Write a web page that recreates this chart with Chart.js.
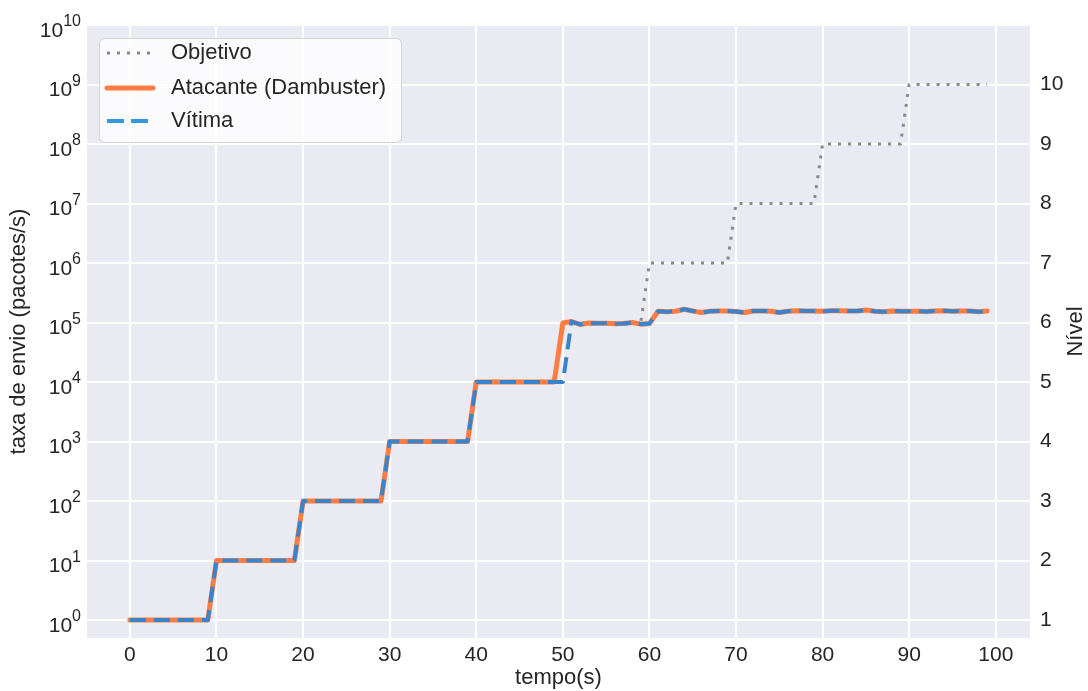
<!DOCTYPE html>
<html>
<head>
<meta charset="utf-8">
<script src="https://cdn.jsdelivr.net/npm/chart.js@4"></script>
<style>
  body { margin: 0; background: #fff; }
</style>
</head>
<body>
<canvas id="chart" width="1088" height="691"></canvas>
<script>
// tempo (s)
const tempo = [
    0, 1, 2, 3, 4, 5, 6, 7, 8, 9,
    10, 11, 12, 13, 14, 15, 16, 17, 18, 19,
    20, 21, 22, 23, 24, 25, 26, 27, 28, 29,
    30, 31, 32, 33, 34, 35, 36, 37, 38, 39,
    40, 41, 42, 43, 44, 45, 46, 47, 48, 49,
    50, 51, 52, 53, 54, 55, 56, 57, 58, 59,
    60, 61, 62, 63, 64, 65, 66, 67, 68, 69,
    70, 71, 72, 73, 74, 75, 76, 77, 78, 79,
    80, 81, 82, 83, 84, 85, 86, 87, 88, 89,
    90, 91, 92, 93, 94, 95, 96, 97, 98, 99
];

const objetivo = [
    1, 1, 1, 1, 1, 1, 1, 1, 1, 1,
    1e1, 1e1, 1e1, 1e1, 1e1, 1e1, 1e1, 1e1, 1e1, 1e1,
    1e2, 1e2, 1e2, 1e2, 1e2, 1e2, 1e2, 1e2, 1e2, 1e2,
    1e3, 1e3, 1e3, 1e3, 1e3, 1e3, 1e3, 1e3, 1e3, 1e3,
    1e4, 1e4, 1e4, 1e4, 1e4, 1e4, 1e4, 1e4, 1e4, 1e4,
    1e5, 1e5, 1e5, 1e5, 1e5, 1e5, 1e5, 1e5, 1e5, 1e5,
    1e6, 1e6, 1e6, 1e6, 1e6, 1e6, 1e6, 1e6, 1e6, 1e6,
    1e7, 1e7, 1e7, 1e7, 1e7, 1e7, 1e7, 1e7, 1e7, 1e7,
    1e8, 1e8, 1e8, 1e8, 1e8, 1e8, 1e8, 1e8, 1e8, 1e8,
    1e9, 1e9, 1e9, 1e9, 1e9, 1e9, 1e9, 1e9, 1e9, 1e9
];

const atacante = [
    1, 1, 1, 1, 1, 1, 1, 1, 1, 1,
    1e1, 1e1, 1e1, 1e1, 1e1, 1e1, 1e1, 1e1, 1e1, 1e1,
    1e2, 1e2, 1e2, 1e2, 1e2, 1e2, 1e2, 1e2, 1e2, 1e2,
    1e3, 1e3, 1e3, 1e3, 1e3, 1e3, 1e3, 1e3, 1e3, 1e3,
    1e4, 1e4, 1e4, 1e4, 1e4, 1e4, 1e4, 1e4, 1e4, 1e4,
    98000, 104000, 93000, 98000, 97000, 97000, 95000, 96000, 100000, 94000,
    96000, 155000, 152000, 155000, 167000, 156000, 147000, 155000, 156000, 156000,
    153000, 147000, 156000, 157000, 155000, 147000, 155000, 158000, 156000, 156000,
    155000, 158000, 158000, 156000, 156000, 162000, 155000, 152000, 156000, 155000,
    155000, 155000, 153000, 156000, 158000, 155000, 156000, 156000, 152000, 156000
];

const vitima = [
    1, 1, 1, 1, 1, 1, 1, 1, 1, 1,
    1e1, 1e1, 1e1, 1e1, 1e1, 1e1, 1e1, 1e1, 1e1, 1e1,
    1e2, 1e2, 1e2, 1e2, 1e2, 1e2, 1e2, 1e2, 1e2, 1e2,
    1e3, 1e3, 1e3, 1e3, 1e3, 1e3, 1e3, 1e3, 1e3, 1e3,
    1e4, 1e4, 1e4, 1e4, 1e4, 1e4, 1e4, 1e4, 1e4, 1e4,
    10000, 104000, 93000, 98000, 97000, 97000, 95000, 96000, 100000, 94000,
    96000, 155000, 152000, 155000, 167000, 156000, 147000, 155000, 156000, 156000,
    153000, 147000, 156000, 157000, 155000, 147000, 155000, 158000, 156000, 156000,
    155000, 158000, 158000, 156000, 156000, 162000, 155000, 152000, 156000, 155000,
    155000, 155000, 153000, 156000, 158000, 155000, 156000, 156000, 152000, 156000
];

const xTicks = [0, 10, 20, 30, 40, 50, 60, 70, 80, 90, 100];
const taxaTicks = [1, 1e1, 1e2, 1e3, 1e4, 1e5, 1e6, 1e7, 1e8, 1e9, 1e10];
const nivelTicks = [1, 2, 3, 4, 5, 6, 7, 8, 9, 10];

const FONT = "'Liberation Sans', Arial, sans-serif";
const TEXT = '#262626';

function points(ys) {
    return tempo.map((t, i) => ({ x: t, y: ys[i] }));
}

// fundo cinza do seaborn
const bgPlugin = {
    id: 'bg',
    beforeDraw(chart) {
        const a = chart.chartArea;
        const ctx = chart.ctx;
        ctx.save();
        ctx.fillStyle = '#EAEAF2';
        ctx.fillRect(a.left, a.top, a.right - a.left, a.bottom - a.top);
        ctx.restore();
    }
};

// rotulos 10^n do eixo esquerdo, com expoente elevado
const expLabels = {
    id: 'expLabels',
    afterDraw(chart) {
        const ctx = chart.ctx;
        const sc = chart.scales.y;
        ctx.save();
        ctx.fillStyle = TEXT;
        ctx.textBaseline = 'middle';
        ctx.textAlign = 'left';
        taxaTicks.forEach(v => {
            const py = sc.getPixelForValue(v);
            const e = String(Math.round(Math.log10(v)));
            ctx.font = '16px ' + FONT;
            const we = ctx.measureText(e).width;
            ctx.font = '21px ' + FONT;
            const wb = ctx.measureText('10').width;
            const xr = 81;
            ctx.fillText('10', xr - we - wb, py + 6);
            ctx.font = '16px ' + FONT;
            ctx.fillText(e, xr - we, py - 3);
        });
        ctx.restore();
    }
};

// legenda dentro do grafico + titulo do eixo direito
const legendPlugin = {
    id: 'boxLegend',
    afterDraw(chart) {
        const ctx = chart.ctx;
        ctx.save();
        const bx = 99, by = 38, bw = 302, bh = 104, r = 5;
        ctx.beginPath();
        ctx.roundRect(bx + 0.5, by + 0.5, bw, bh, r);
        ctx.fillStyle = 'rgba(255,255,255,0.8)';
        ctx.fill();
        ctx.strokeStyle = 'rgba(204,204,204,0.8)';
        ctx.lineWidth = 1;
        ctx.stroke();

        const rowsY = [53, 88, 121];
        ctx.font = '22px ' + FONT;
        ctx.textBaseline = 'middle';
        chart.data.datasets.forEach((ds, k) => {
            const y = rowsY[k];
            ctx.beginPath();
            ctx.setLineDash(ds.legendDash || []);
            ctx.lineWidth = ds.borderWidth;
            ctx.lineCap = ds.legendCap || 'butt';
            ctx.strokeStyle = ds.legendColor || ds.borderColor;
            ctx.moveTo(107, y);
            ctx.lineTo(153, y);
            ctx.stroke();
            ctx.setLineDash([]);
            ctx.fillStyle = TEXT;
            ctx.fillText(ds.label, 171, y);
        });

        // "Nível" no eixo direito
        const a = chart.chartArea;
        ctx.translate(1076, (a.top + a.bottom) / 2);
        ctx.rotate(-Math.PI / 2);
        ctx.textAlign = 'center';
        ctx.font = '22px ' + FONT;
        ctx.fillStyle = TEXT;
        ctx.fillText('Nível', 0, 0);
        ctx.restore();
    }
};

const ctx = document.getElementById('chart').getContext('2d');
new Chart(ctx, {
    type: 'line',
    data: {
        datasets: [
            {
                label: 'Objetivo',
                data: points(objetivo),
                borderColor: '#8a8a8a',
                borderWidth: 3,
                borderDash: [3, 7],
                legendDash: [3, 7],
                order: 3
            },
            {
                label: 'Atacante (Dambuster)',
                data: points(atacante),
                borderColor: '#ff7d42',
                borderWidth: 5,
                borderCapStyle: 'round',
                legendCap: 'round',
                order: 2
            },
            {
                label: 'Vítima',
                data: points(vitima),
                borderColor: '#3784cc',
                legendColor: '#3498db',
                borderWidth: 4,
                borderDash: [16, 8],
                legendDash: [17, 7],
                order: 1
            }
        ]
    },
    options: {
        responsive: false,
        animation: false,
        devicePixelRatio: 1,
        layout: { padding: { top: 25, right: 0, left: 0, bottom: 0 } },
        elements: {
            point: { radius: 0 },
            line: { tension: 0, fill: false, borderJoinStyle: 'round' }
        },
        plugins: {
            legend: { display: false },
            tooltip: { enabled: false }
        },
        scales: {
            x: {
                type: 'linear',
                min: -4.95,
                max: 103.95,
                afterBuildTicks: s => { s.ticks = xTicks.map(v => ({ value: v })); },
                afterFit: s => { s.height = 53; },
                border: { display: false },
                grid: { color: '#ffffff', lineWidth: 2, drawTicks: false },
                ticks: {
                    color: TEXT,
                    font: { family: FONT, size: 21 },
                    padding: 5,
                    maxRotation: 0
                },
                title: {
                    display: true,
                    text: 'tempo(s)',
                    color: TEXT,
                    font: { family: FONT, size: 22 },
                    padding: { top: 0, bottom: 0 }
                }
            },
            y: {
                type: 'logarithmic',
                position: 'left',
                min: 0.5,
                max: 1e10,
                afterBuildTicks: s => { s.ticks = taxaTicks.map(v => ({ value: v })); },
                afterFit: s => { s.width = 87; },
                border: { display: false },
                grid: { color: '#ffffff', lineWidth: 2, drawTicks: false },
                ticks: { display: false },
                title: {
                    display: true,
                    text: 'taxa de envio (pacotes/s)',
                    color: TEXT,
                    font: { family: FONT, size: 22 },
                    padding: { top: 6, bottom: 0 }
                }
            },
            nivel: {
                type: 'linear',
                position: 'right',
                min: 0.699,
                max: 11,
                afterBuildTicks: s => { s.ticks = nivelTicks.map(v => ({ value: v })); },
                afterFit: s => { s.width = 58; },
                border: { display: false },
                grid: { display: false, drawTicks: false },
                ticks: {
                    color: TEXT,
                    font: { family: FONT, size: 21 },
                    padding: 10
                }
            }
        }
    },
    plugins: [bgPlugin, expLabels, legendPlugin]
});
</script>
</body>
</html>
